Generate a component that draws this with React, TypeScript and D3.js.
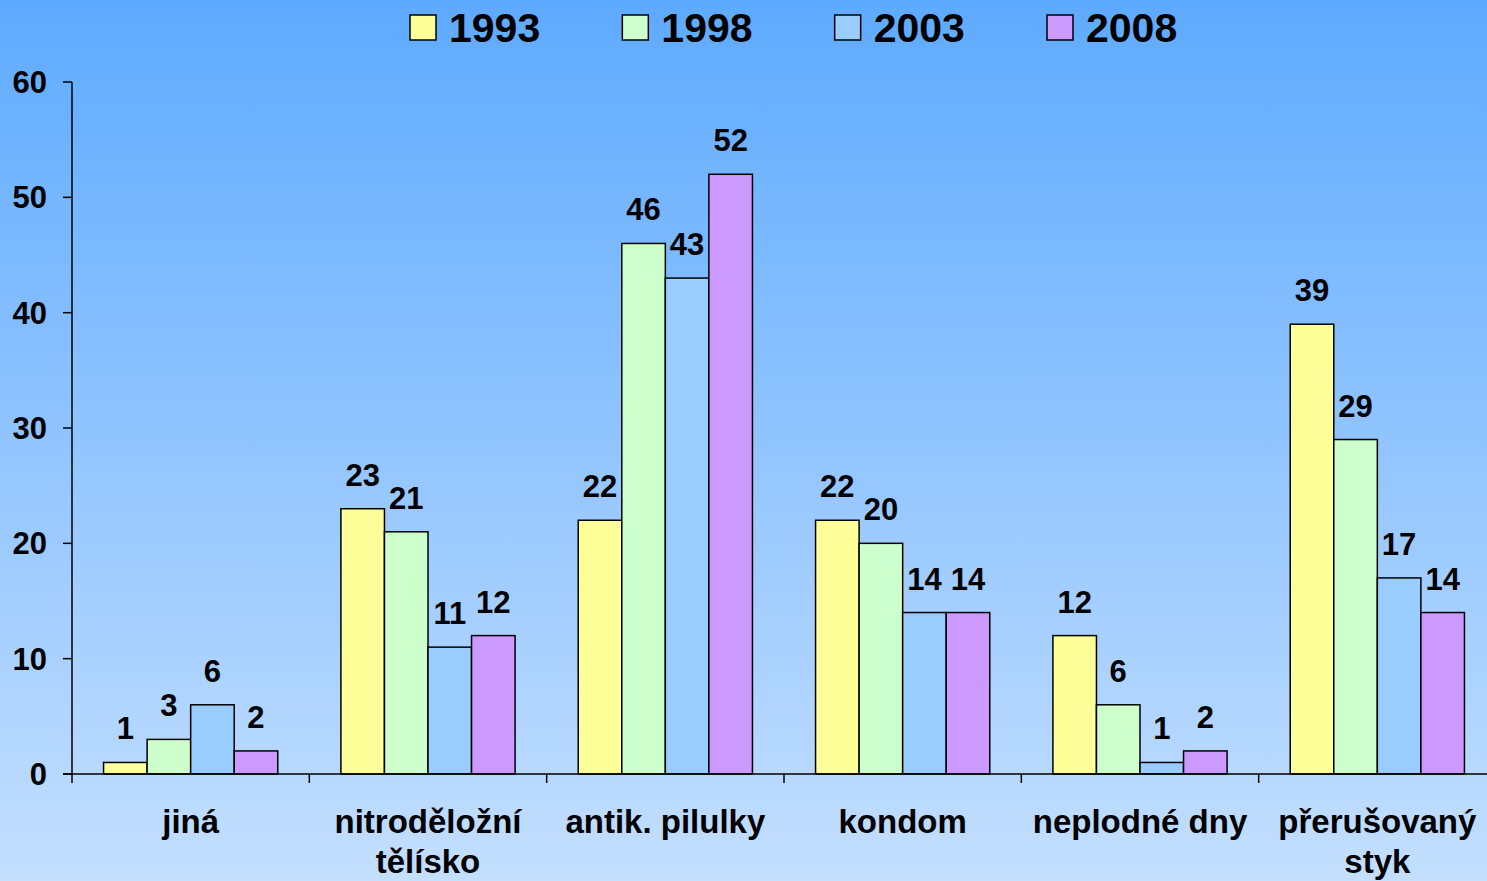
import React, { useRef, useEffect } from 'react';
import * as d3 from 'd3';

const categories = [['jiná'], ['nitroděložní', 'tělísko'], ['antik. pilulky'], ['kondom'], ['neplodné dny'], ['přerušovaný', 'styk']];
const years = ['1993', '1998', '2003', '2008'];
const colors = ['#ffff99', '#ccffcc', '#99ccff', '#cc99ff'];
const v1993 = [1, 23, 22, 22, 12, 39];
const v1998 = [3, 21, 46, 20, 6, 29];
const v2003 = [6, 11, 43, 14, 1, 17];
const v2008 = [2, 12, 52, 14, 2, 14];
const yTicks = [0, 10, 20, 30, 40, 50, 60];

export default function App() {
  const svgRef = useRef<SVGSVGElement>(null);

  useEffect(() => {
    if (!svgRef.current) return;
    const width = 1487;
    const height = 881;
    const font = '"Liberation Sans", Arial, sans-serif';
    const series = [v1993, v1998, v2003, v2008];

    const svg = d3.select(svgRef.current);
    svg.selectAll('*').remove();

    // background gradient
    const defs = svg.append('defs');
    const grad = defs.append('linearGradient').attr('id', 'bg').attr('x1', 0).attr('y1', 0).attr('x2', 0).attr('y2', 1);
    grad.append('stop').attr('offset', '0%').attr('stop-color', '#5eaaff');
    grad.append('stop').attr('offset', '100%').attr('stop-color', '#c4dfff');
    svg.append('rect').attr('width', width).attr('height', height).attr('fill', 'url(#bg)');

    const keys = categories.map(c => c.join(' '));
    const x0 = d3.scaleBand<string>().domain(keys).range([72, 1496]).padding(0);
    const bw = x0.bandwidth();
    const x1 = d3.scaleBand<string>().domain(years).range([bw * 0.133, bw * 0.867]).padding(0);
    const y = d3.scaleLinear().domain([0, 60]).range([774, 82]);

    // y axis
    svg.append('line').attr('x1', 72).attr('x2', 72).attr('y1', y(60)).attr('y2', y(0) + 9)
      .attr('stroke', '#000').attr('stroke-width', 1.5);
    yTicks.forEach(t => {
      svg.append('line').attr('x1', 63).attr('x2', 72).attr('y1', y(t)).attr('y2', y(t))
        .attr('stroke', '#000').attr('stroke-width', 1.5);
      svg.append('text').attr('x', 47).attr('y', y(t)).attr('dy', '0.36em')
        .attr('text-anchor', 'end').attr('font-family', font).attr('font-weight', 'bold')
        .attr('font-size', 31).attr('fill', '#000').text(t);
    });

    // bars
    keys.forEach((k, ci) => {
      const g = svg.append('g').attr('transform', `translate(${x0(k)},0)`);
      series.forEach((s, si) => {
        const v = s[ci];
        const bx = x1(years[si])!;
        g.append('rect').attr('x', bx).attr('y', y(v)).attr('width', x1.bandwidth())
          .attr('height', y(0) - y(v)).attr('fill', colors[si])
          .attr('stroke', '#000').attr('stroke-width', 1.5);
        g.append('text').attr('x', bx + x1.bandwidth() / 2).attr('y', y(v) - 23)
          .attr('text-anchor', 'middle').attr('font-family', font).attr('font-weight', 'bold')
          .attr('font-size', 31).attr('fill', '#000').text(v);
      });
    });

    // x axis
    svg.append('line').attr('x1', 63).attr('x2', width).attr('y1', y(0)).attr('y2', y(0))
      .attr('stroke', '#000').attr('stroke-width', 1.5);
    keys.forEach(k => {
      const tx = x0(k)! + bw;
      svg.append('line').attr('x1', tx).attr('x2', tx).attr('y1', y(0)).attr('y2', y(0) + 9)
        .attr('stroke', '#000').attr('stroke-width', 1.5);
    });
    categories.forEach((lines, ci) => {
      const cx = x0(keys[ci])! + bw / 2;
      lines.forEach((ln, li) => {
        svg.append('text').attr('x', cx).attr('y', 833 + li * 40)
          .attr('text-anchor', 'middle').attr('font-family', font).attr('font-weight', 'bold')
          .attr('font-size', 33).attr('fill', '#000').text(ln);
      });
    });

    // legend
    const legendX = d3.scalePoint<string>().domain(years).range([410, 1047]);
    years.forEach((yr, i) => {
      const lx = legendX(yr)!;
      svg.append('rect').attr('x', lx).attr('y', 15).attr('width', 26).attr('height', 25)
        .attr('fill', colors[i]).attr('stroke', '#000').attr('stroke-width', 1.5);
      svg.append('text').attr('x', lx + 39).attr('y', 42)
        .attr('font-family', font).attr('font-weight', 'bold')
        .attr('font-size', 41).attr('fill', '#000').text(yr);
    });
  }, []);

  return (
    <svg ref={svgRef} width={1487} height={881}
      style={{ position: 'absolute', left: 0, top: 0, display: 'block' }} />
  );
}
